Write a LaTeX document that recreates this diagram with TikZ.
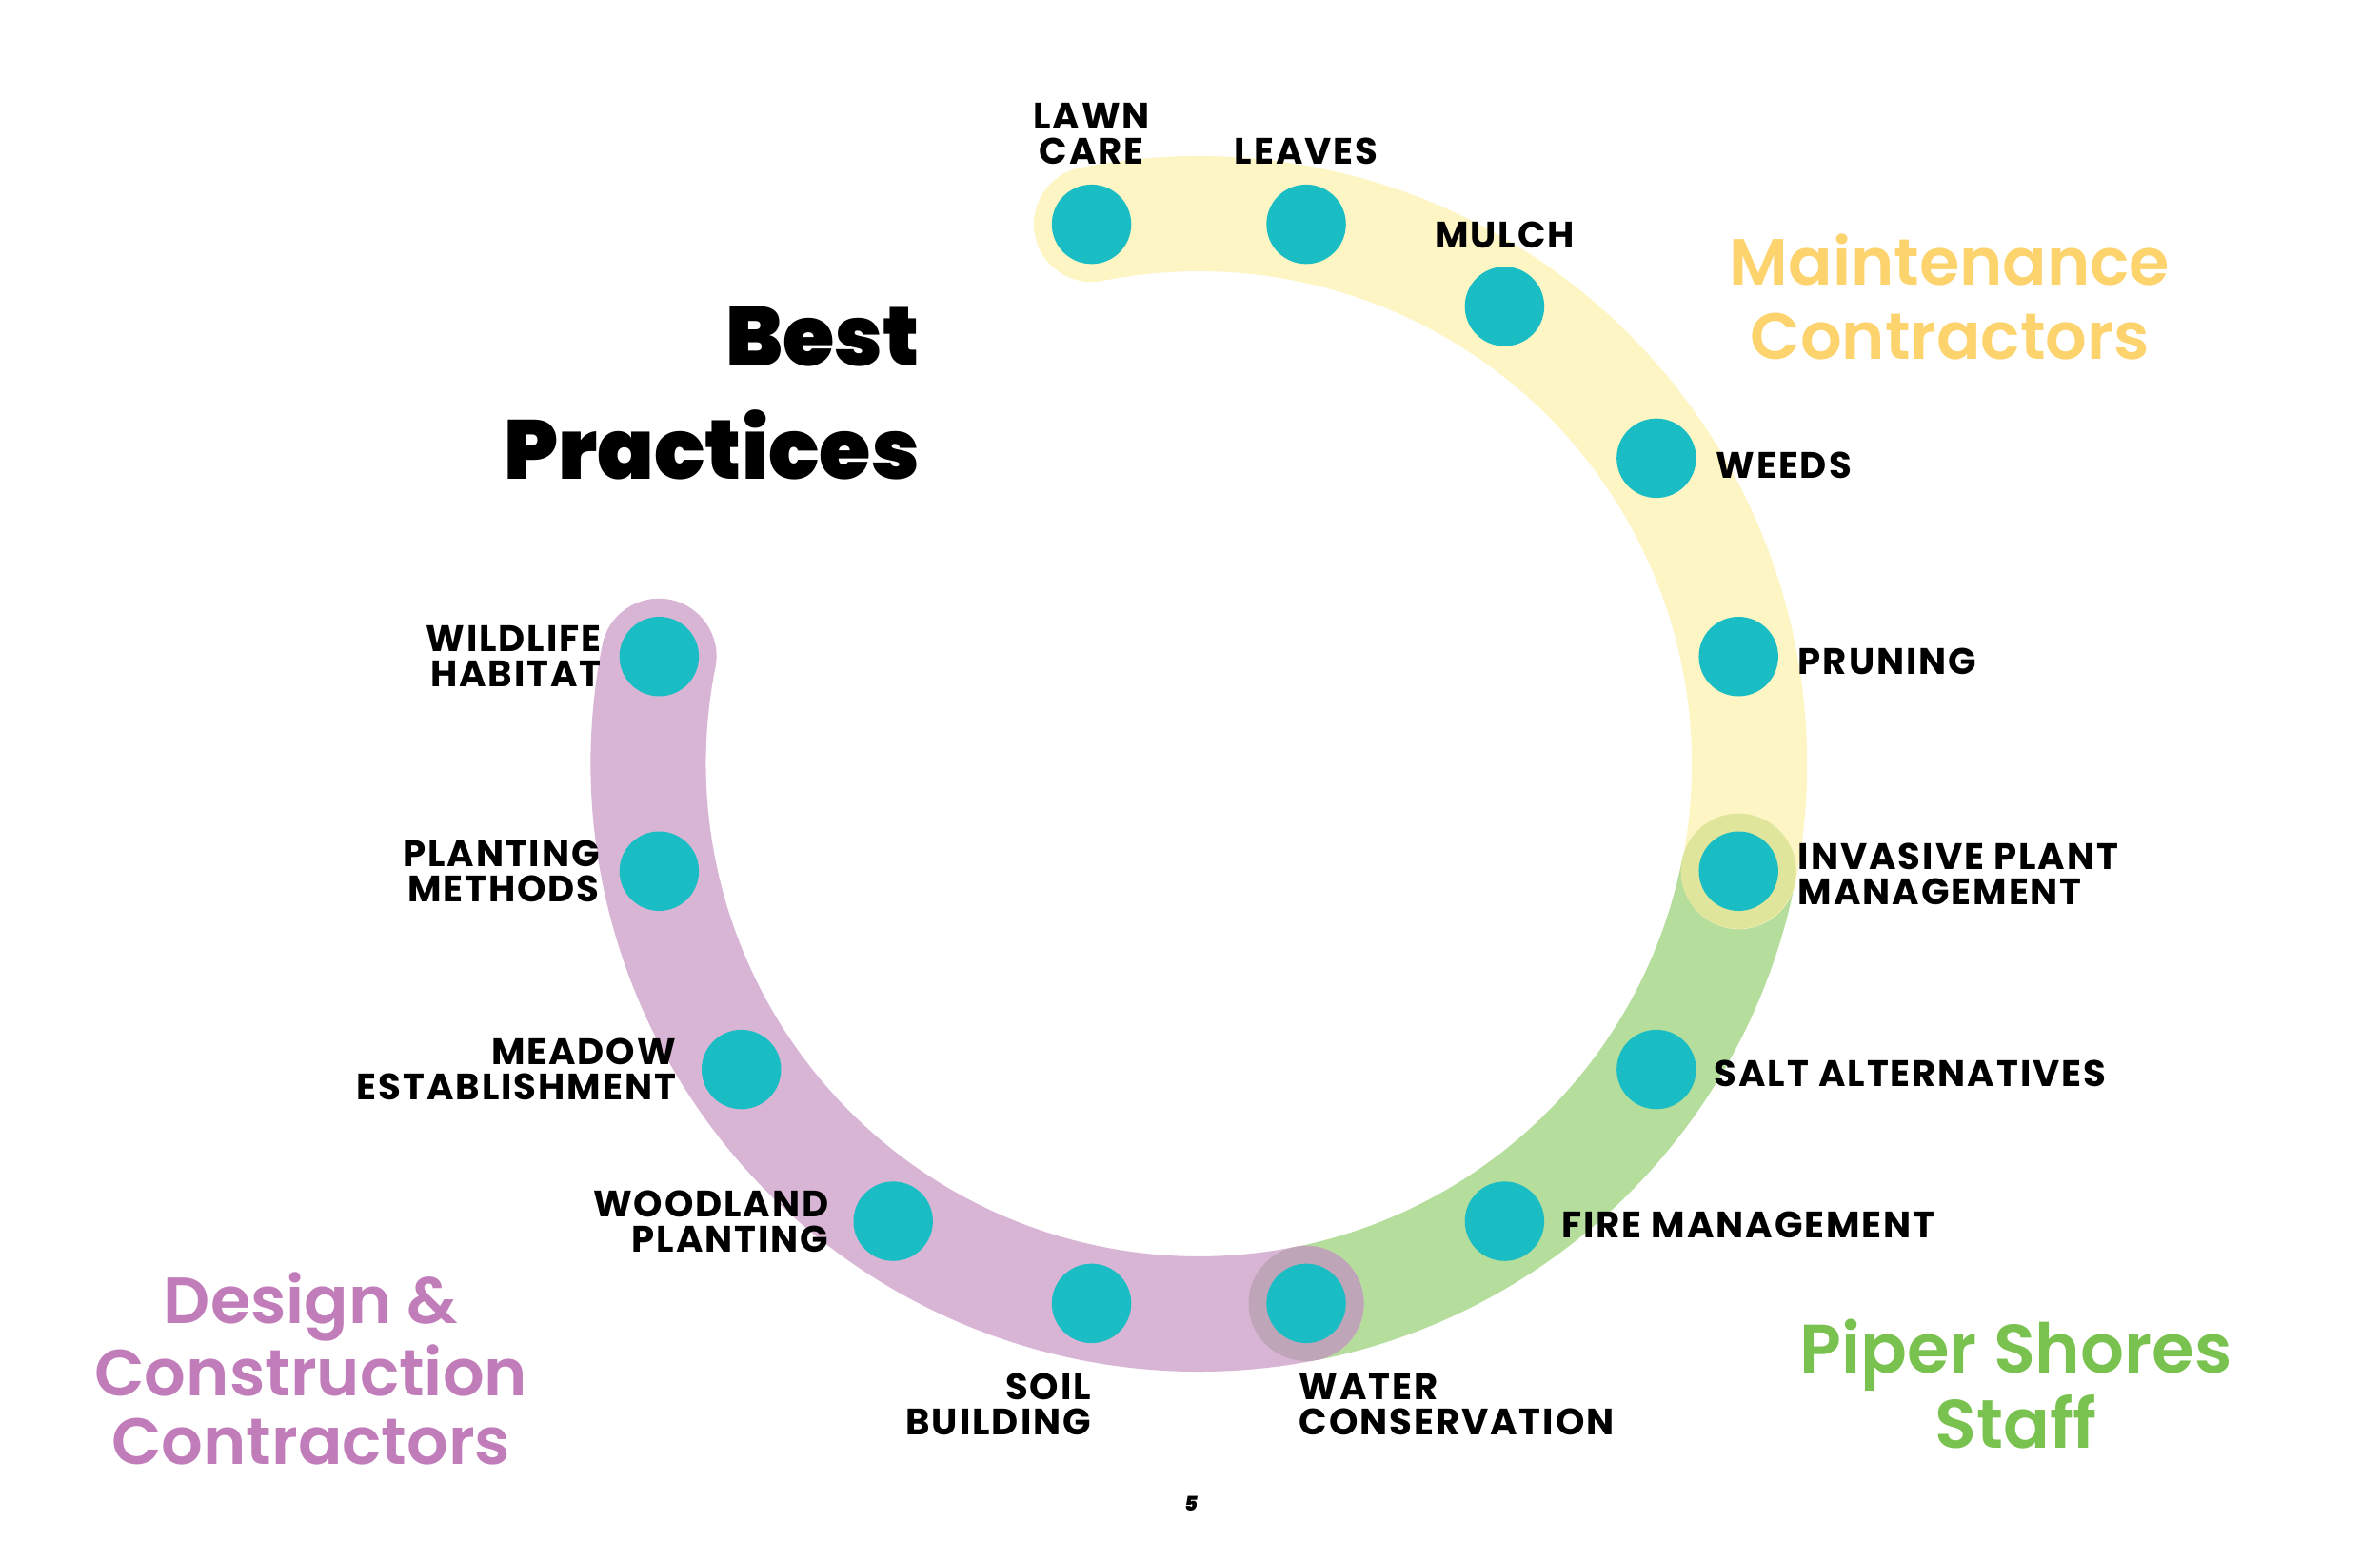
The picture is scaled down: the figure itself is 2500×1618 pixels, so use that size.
\documentclass[tikz,border=0pt]{standalone}
\usepackage{fontspec}
\setmainfont{Poppins}
\newfontfamily\labfont{Poppins Bold}[LetterSpace=5]
\newfontfamily\headfont{Poppins SemiBold}
\newfontfamily\heavyfont{Poppins Black}
\usetikzlibrary{calc}
\definecolor{bandY}{HTML}{FEF5C4}
\definecolor{bandG}{HTML}{B5DD9C}
\definecolor{bandP}{HTML}{D8B5D5}
\definecolor{haloY}{HTML}{DFE59A}
\definecolor{haloP}{HTML}{BFA5B8}
\definecolor{teal}{HTML}{1BBDC4}
\definecolor{txtY}{HTML}{FDD36E}
\definecolor{txtG}{HTML}{79C24F}
\definecolor{txtP}{HTML}{C17DB9}
\begin{document}
\begin{tikzpicture}[x=0.01cm,y=0.01cm,
  band/.style={line width=1.21cm},
  dotnode/.style={circle,fill=teal,inner sep=0pt,minimum size=0.834cm},
  halo/.style={circle,inner sep=0pt,minimum size=1.21cm},
  lab/.style={inner sep=0pt,font={\labfont\fontsize{11}{10.6}\selectfont}},
  head/.style={inner sep=0pt,align=center,font={\headfont\fontsize{19.5}{22.2}\selectfont}}]
\useasboundingbox (0,0) rectangle (2500,1618);
\fill[white] (0,0) rectangle (2500,1618);
\coordinate (C) at (1259.3,815.5);
\foreach \n/\a in {0/101.25,1/78.75,2/56.25,3/33.75,4/11.25,5/-11.25,6/-33.75,7/-56.25,8/-78.75,9/-101.25,10/-123.75,11/-146.25,12/-168.75,13/-191.25}
  \coordinate (p\n) at ($(C)+(\a:578)$);
% bands
\draw[band,bandG] (p5) arc[start angle=-11.25,end angle=-78.75,radius=5.78cm];
\draw[band,bandY,line cap=round] (p0) arc[start angle=101.25,end angle=-11.25,radius=5.78cm];
\draw[band,bandP,line cap=round] (p8) arc[start angle=-78.75,end angle=-191.25,radius=5.78cm];
\node[halo,fill=haloY] (h5) at (p5) {};
\node[halo,fill=haloP] (h8) at (p8) {};
% dots
\foreach \n in {0,...,13} \node[dotnode] (d\n) at (p\n) {};
% labels
\node[lab,anchor=south,align=center] (l0) at ([yshift=0.62cm]p0) {LAWN\\CARE};
\node[lab,anchor=south] (l1) at ([yshift=0.62cm]p1) {LEAVES};
\node[lab,anchor=south] (l2) at ([yshift=0.60cm]p2) {MULCH};
\node[lab,anchor=west] (l3) at ([xshift=0.62cm,yshift=-0.07cm]p3) {WEEDS};
\node[lab,anchor=west] (l4) at ([xshift=0.62cm,yshift=-0.05cm]p4) {PRUNING};
\node[lab,anchor=west,align=left] (l5) at ([xshift=0.62cm,yshift=-0.03cm]p5) {INVASIVE PLANT\\MANAGEMENT};
\node[lab,anchor=west] (l6) at ([xshift=0.60cm,yshift=-0.04cm]p6) {SALT ALTERNATIVES};
\node[lab,anchor=west] (l7) at ([xshift=0.59cm,yshift=-0.04cm]p7) {FIRE MANAGEMENT};
\node[lab,anchor=north west,align=left] (l8) at ([xshift=-0.08cm,yshift=-0.73cm]p8) {WATER\\CONSERVATION};
\node[lab,anchor=north east,align=right] (l9) at ([yshift=-0.73cm]p9) {SOIL\\BUILDING};
\node[lab,anchor=east,align=right] (l10) at ([xshift=-0.67cm]p10) {WOODLAND\\PLANTING};
\node[lab,anchor=east,align=right] (l11) at ([xshift=-0.68cm]p11) {MEADOW\\ESTABLISHMENT};
\node[lab,anchor=east,align=right] (l12) at ([xshift=-0.62cm]p12) {PLANTING\\METHODS};
\node[lab,anchor=east,align=right] (l13) at ([xshift=-0.60cm]p13) {WILDLIFE\\HABITAT};
% titles
\node[inner sep=0pt,anchor=north east,align=right,font={\heavyfont\fontsize{25}{33.6}\selectfont}] (title) at (966.7,1296) {Best\\Practices};
\node[head,text=txtY,anchor=north] (maint) at (2048,1373) {Maintenance\\Contractors};
\node[head,text=txtG,anchor=north,font={\headfont\fontsize{20.5}{19.8}\selectfont}] (staff) at (2117.5,233) {Piper Shores\\Staff};
\node[head,text=txtP,anchor=north,font={\headfont\fontsize{19.5}{20.6}\selectfont}] (design) at (326.7,282) {Design \&\\Construction\\Contractors};
\node[inner sep=0pt,anchor=base,font={\heavyfont\itshape\fontsize{6}{7}\selectfont}] (page) at (1251,31) {5};
\end{tikzpicture}
\end{document}
